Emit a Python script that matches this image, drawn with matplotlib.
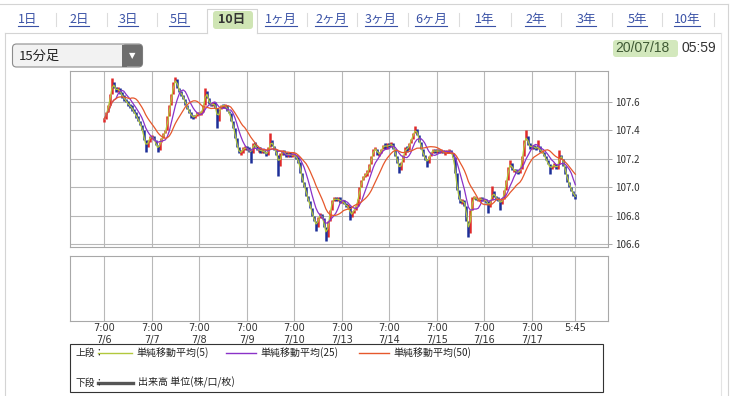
import matplotlib
matplotlib.use("Agg")
import matplotlib.pyplot as plt
import numpy as np
import pandas as pd
from matplotlib.patches import FancyBboxPatch, Rectangle

plt.rcParams['font.family'] = ['Noto Sans CJK JP', 'DejaVu Sans']

# ---- data ---------------------------------------------------------------
tabs = ["1日", "2日", "3日", "5日", "10日", "1ヶ月", "2ヶ月", "3ヶ月",
        "6ヶ月", "1年", "2年", "3年", "5年", "10年"]
selected_tab = "10日"
bar_type = "15分足"
stamp_date = "20/07/18"
stamp_time = "05:59"

days = ["7/6", "7/7", "7/8", "7/9", "7/10", "7/13", "7/14", "7/15", "7/16", "7/17"]
day_open_label = "7:00"
last_label = "5:45"

first_open = 107.46
# hourly closes, one line per trading day (from 7:00)
closes = [
    107.48, 107.53, 107.58, 107.66, 107.74, 107.70, 107.68, 107.70, 107.66, 107.64, 107.62, 107.60,
    107.58, 107.57, 107.55, 107.52, 107.50, 107.47, 107.44, 107.40, 107.33, 107.28, 107.33, 107.35,
    107.36, 107.33, 107.30, 107.26, 107.32, 107.35, 107.38, 107.40, 107.50, 107.58, 107.66, 107.74,
    107.76, 107.70, 107.67, 107.65, 107.62, 107.58, 107.55, 107.52, 107.50, 107.49, 107.51, 107.52,
    107.52, 107.53, 107.58, 107.68, 107.63, 107.59, 107.57, 107.60, 107.56, 107.47, 107.55, 107.58,
    107.57, 107.58, 107.54, 107.52, 107.47, 107.42, 107.35, 107.28, 107.24, 107.25, 107.27, 107.28,
    107.27, 107.26, 107.24, 107.31, 107.29, 107.26, 107.27, 107.25, 107.26, 107.24, 107.23, 107.28,
    107.33, 107.29, 107.26, 107.23, 107.15, 107.24, 107.25, 107.24, 107.22, 107.24, 107.22, 107.23,
    107.23, 107.20, 107.18, 107.10, 107.04, 107.00, 106.94, 106.90, 106.85, 106.80, 106.76, 106.72,
    106.79, 106.81, 106.78, 106.72, 106.65, 106.76, 106.84, 106.91, 106.92, 106.91, 106.92, 106.90,
    106.90, 106.89, 106.86, 106.87, 106.80, 106.82, 106.84, 106.87, 106.92, 107.00, 107.05, 107.08,
    107.09, 107.11, 107.16, 107.22, 107.27, 107.27, 107.23, 107.24, 107.27, 107.30, 107.28, 107.30,
    107.29, 107.31, 107.27, 107.22, 107.17, 107.12, 107.18, 107.23, 107.28, 107.26, 107.31, 107.34,
    107.38, 107.41, 107.37, 107.32, 107.27, 107.22, 107.20, 107.17, 107.22, 107.25, 107.26, 107.25,
    107.26, 107.25, 107.26, 107.24, 107.25, 107.25, 107.26, 107.24, 107.21, 107.10, 106.98, 106.92,
    106.89, 106.91, 106.87, 106.76, 106.68, 106.84, 106.93, 106.93, 106.91, 106.91, 106.92, 106.91,
    106.91, 106.90, 106.86, 106.91, 106.97, 106.93, 106.92, 106.91, 106.88, 106.92, 106.98, 107.05,
    107.14, 107.17, 107.12, 107.12, 107.11, 107.10, 107.13, 107.22, 107.33, 107.36, 107.30, 107.28,
    107.29, 107.28, 107.27, 107.29, 107.25, 107.25, 107.22, 107.19, 107.16, 107.13, 107.15, 107.16,
    107.13, 107.16, 107.23, 107.20, 107.15, 107.09, 107.04, 107.00, 106.97, 106.94, 106.93,
]

# visible wick extremes (bar index, price)
wick_idx = [4, 21, 27, 36, 51, 57, 74, 84, 88, 107, 112, 124, 149, 157, 163,
            184, 194, 196, 200, 205, 213, 219, 225, 230]
wick_val = [107.77, 107.25, 107.25, 107.78, 107.70, 107.42, 107.17, 107.38, 107.08,
            106.69, 106.62, 106.77, 107.10, 107.43, 107.14, 106.65, 106.82, 107.01,
            106.84, 107.19, 107.40, 107.33, 107.09, 107.26]

ma_periods = [5, 25, 50]
ma_labels = ["単純移動平均(5)", "単純移動平均(25)", "単純移動平均(50)"]
volume_label = "出来高 単位(株/口/枚)"

price_ticks = [106.6, 106.8, 107.0, 107.2, 107.4, 107.6]

# ---- styles -------------------------------------------------------------
ma_colors = ["#b2c83c", "#8a32c8", "#e6582c"]
up_color = "#e02a2a"
down_color = "#1d2f98"
grid_c = "#b8b8b8"
link_c = "#3a52a6"

W, H = 742, 396
fig = plt.figure(figsize=(W / 100, H / 100), dpi=100)
fig.patch.set_facecolor("white")

# pixel overlay for the page furniture
bg = fig.add_axes([0, 0, 1, 1])
bg.set_xlim(0, W)
bg.set_ylim(H, 0)
bg.axis("off")

border = "#d4d4d4"
bg.plot([0, 728], [4, 4], color=border, lw=0.8)
bg.plot([728, 728], [4, H], color=border, lw=0.8)
bg.plot([5, 207], [33, 33], color=border, lw=0.8)
bg.plot([257, 721], [33, 33], color=border, lw=0.8)
bg.plot([5, 5], [33, H], color=border, lw=0.8)
bg.plot([721, 721], [33, H], color="#e4e4e4", lw=0.8)
bg.plot([207, 207, 257, 257], [33, 9, 9, 33], color=border, lw=0.8)

# tabs
tab_x = [28, 79, 128, 179, 232, 281, 331, 381, 431, 485, 535, 586, 637, 687]
sep_x = [56, 107, 157, 307, 357, 408, 459, 511, 561, 612, 662, 714]
for sx in sep_x:
    bg.plot([sx, sx], [13, 26], color="#dcdcdc", lw=0.8)
bg.add_patch(FancyBboxPatch((213, 11), 40, 18,
                            boxstyle="round,pad=0,rounding_size=3",
                            fc="#cfe5b4", ec="none"))
tab_texts = []
for tx, t in zip(tab_x, tabs):
    if t == selected_tab:
        bg.text(tx, 19.5, t, ha="center", va="center", fontsize=9,
                fontweight="bold", color="#333333")
    else:
        tab_texts.append(bg.text(tx, 19.5, t, ha="center", va="center",
                                 fontsize=9, color=link_c))

# dropdown
bg.add_patch(FancyBboxPatch((12.5, 44), 130, 23,
                            boxstyle="round,pad=0,rounding_size=4",
                            fc="#f2f2f2", ec="#8c8c8c", lw=0.8))
bg.add_patch(FancyBboxPatch((122, 44.5), 20.5, 22,
                            boxstyle="round,pad=0,rounding_size=3.5",
                            fc="#6e6e6e", ec="none"))
bg.add_patch(Rectangle((122, 44.5), 5, 22, fc="#6e6e6e", ec="none"))
bg.text(132.5, 55.5, "▼", ha="center", va="center", fontsize=6, color="white",
        family="DejaVu Sans")
bg.text(19, 56, bar_type, ha="left", va="center", fontsize=9.5, color="#222222")

# time stamp
bg.add_patch(FancyBboxPatch((613, 40), 65, 17,
                            boxstyle="round,pad=0,rounding_size=3",
                            fc="#d3e8bd", ec="none"))
bg.text(615, 48.5, stamp_date, ha="left", va="center", fontsize=10,
        color="#3f5a34", family="Liberation Sans")
bg.text(681, 48.5, stamp_time, ha="left", va="center", fontsize=10,
        color="#333333", family="Liberation Sans")

# legend box
bg.add_patch(Rectangle((70, 344), 533, 48, fc="none", ec="#333333", lw=0.8))
bg.text(75, 352.5, "上段：", ha="left", va="center", fontsize=7, color="#222222")
leg_x = [(98, 132, 136), (226, 256, 260), (359, 389, 393)]
for (x0, x1, xt), col, lab in zip(leg_x, ma_colors, ma_labels):
    bg.plot([x0, x1], [352.5, 352.5], color=col, lw=1.0)
    bg.text(xt, 352.5, lab, ha="left", va="center", fontsize=7.2, color="#222222")
bg.text(75, 382.5, "下段：", ha="left", va="center", fontsize=7, color="#222222")
bg.plot([98, 133], [382.5, 382.5], color="#555555", lw=2.4)
bg.text(138, 382.5, volume_label, ha="left", va="center", fontsize=7.2, color="#222222")

# ---- price chart --------------------------------------------------------
c = np.array(closes)
o = np.r_[first_open, c[:-1]]
hi = np.maximum(o, c)
lo = np.minimum(o, c)
for i, v in zip(wick_idx, wick_val):
    hi[i] = max(hi[i], v)
    lo[i] = min(lo[i], v)
flat = (hi - lo) < 0.02
hi[flat] += 0.01
lo[flat] -= 0.01
x = np.arange(len(c))
up = c >= o

ticks = [24 * k for k in range(len(days))] + [len(c) - 1]
xlim = (-17.2, 254.5)

ax = fig.add_axes([70 / W, 1 - 247 / H, 538 / W, 176.5 / H])
ax.set_facecolor("white")
ax.vlines(x[up], lo[up], hi[up], color=up_color, lw=1.8, zorder=3)
ax.vlines(x[~up], lo[~up], hi[~up], color=down_color, lw=1.8, zorder=3)

s = pd.Series(c)
for p, col in zip(ma_periods, ma_colors):
    # 15-minute periods expressed on hourly bars (same lag)
    w = int(p / 4 + 0.5) + 1
    ax.plot(x, s.rolling(w, min_periods=1).mean(), color=col, lw=0.9, zorder=4)

ax.set_xlim(*xlim)
ax.set_ylim(106.578, 107.823)
ax.set_xticks(ticks)
ax.set_yticks(price_ticks)
ax.set_yticklabels([f"{v:.1f}" for v in price_ticks])
ax.yaxis.tick_right()
ax.tick_params(axis="x", length=0, labelbottom=False)
ax.tick_params(axis="y", length=3, width=0.6, pad=2, labelsize=7,
               colors="#9a9a9a", labelcolor="#333333")
ax.grid(True, color=grid_c, lw=0.8, zorder=0)
ax.set_axisbelow(True)
for sp in ax.spines.values():
    sp.set_color("#a8a8a8")
    sp.set_linewidth(0.8)

# ---- volume panel (empty) -----------------------------------------------
ax2 = fig.add_axes([70 / W, 1 - 321 / H, 538 / W, 65 / H])
ax2.set_xlim(*xlim)
ax2.set_ylim(0, 1)
ax2.set_yticks([])
ax2.set_xticks(ticks)
ax2.set_xticklabels([f"{day_open_label}\n{d}" for d in days] + [last_label],
                    fontsize=7, color="#333333", linespacing=1.25,
                    family="DejaVu Sans")
ax2.tick_params(axis="x", length=0, pad=1.5)
ax2.grid(True, axis="x", color=grid_c, lw=0.8)
for sp in ax2.spines.values():
    sp.set_color("#a8a8a8")
    sp.set_linewidth(0.8)

# underline the tab links
fig.canvas.draw()
inv = bg.transData.inverted()
for t in tab_texts:
    bb = t.get_window_extent()
    (x0, _), (x1, y1) = inv.transform([[bb.x0, bb.y0], [bb.x1, bb.y0]])
    bg.plot([x0, x1], [26, 26], color=link_c, lw=0.8)

fig.savefig("out.png", dpi=100, facecolor="white")
